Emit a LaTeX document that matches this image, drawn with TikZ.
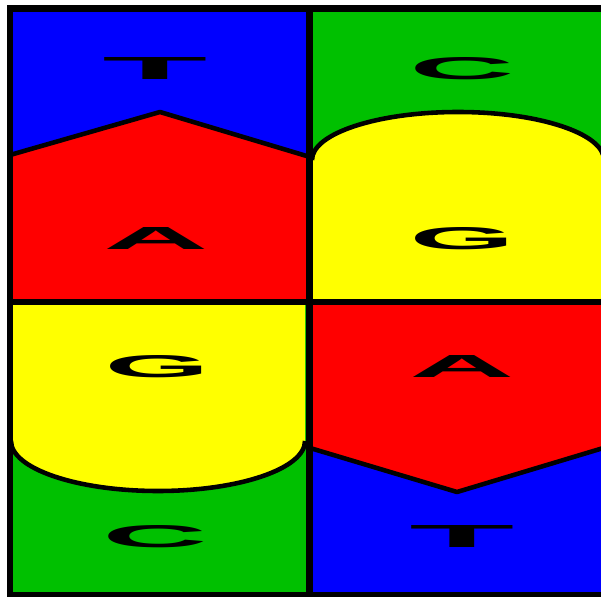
\documentclass[tikz,border=0pt]{standalone}
\usepackage{fontspec}
\setmainfont{Liberation Sans}
\usepackage{graphicx}
\definecolor{baseblue}{RGB}{0,0,255}
\definecolor{basered}{RGB}{255,0,0}
\definecolor{basegreen}{RGB}{0,192,0}
\definecolor{baseyellow}{RGB}{255,255,0}
\newcommand{\basechar}[1]{\resizebox{2.1cm}{0.44cm}{\textbf{#1}}}

\begin{document}
\begin{tikzpicture}[x=0.02cm, y=-0.02cm,
  letter/.style={inner sep=0pt, outer sep=0pt},
  outline/.style={draw=black, line width=2.6pt, line join=round},
  border/.style={draw=black, line width=3.6pt}
]
  \useasboundingbox[fill=white] (0,0) rectangle (601,597);
  \clip (0,0) rectangle (601,597);
  \fill[baseblue]  (10,8) rectangle (310,302);
  \fill[basegreen] (310,8) rectangle (610,302);
  \fill[basegreen] (10,302) rectangle (310,597);
  \fill[baseblue]  (310,302) rectangle (610,597);
  \fill[basered] (10,155) -- (160,112) -- (310,157) -- (310,302) -- (10,302) -- cycle;
  \fill[baseyellow] (312,160) arc[start angle=180, end angle=360, x radius=146, y radius=48] -- (610,302) -- (312,302) -- cycle;
  \fill[baseyellow] (11,302) -- (11,441) arc[start angle=180, end angle=0, x radius=147, y radius=50] -- (305,302) -- cycle;
  \fill[basered] (310,302) -- (310,448) -- (457,492) -- (610,446) -- (610,302) -- cycle;
  \draw[outline] (10,155) -- (160,112) -- (310,157);
  \draw[outline] (312,160) arc[start angle=180, end angle=360, x radius=146, y radius=48];
  \draw[outline] (11,441) arc[start angle=180, end angle=0, x radius=147, y radius=50];
  \draw[outline] (310,448) -- (457,492) -- (610,446);
  \draw[border] (609.5,8.5) -- (10,8.5) -- (10,595) -- (609.5,595);
  \draw[border] (309.5,8) -- (309.5,595);
  \draw[border] (10,302) -- (609.5,302);
  \node[letter] (t1) at (155,69)  {\basechar{T}};
  \node[letter] (a1) at (156,239) {\basechar{A}};
  \node[letter] (c1) at (462,69)  {\basechar{C}};
  \node[letter] (g1) at (462,239) {\basechar{G}};
  \node[letter] (g2) at (157,367) {\basechar{G}};
  \node[letter] (c2) at (155,537) {\basechar{C}};
  \node[letter] (a2) at (462,367) {\basechar{A}};
  \node[letter] (t2) at (462,536) {\basechar{T}};
\end{tikzpicture}
\end{document}
